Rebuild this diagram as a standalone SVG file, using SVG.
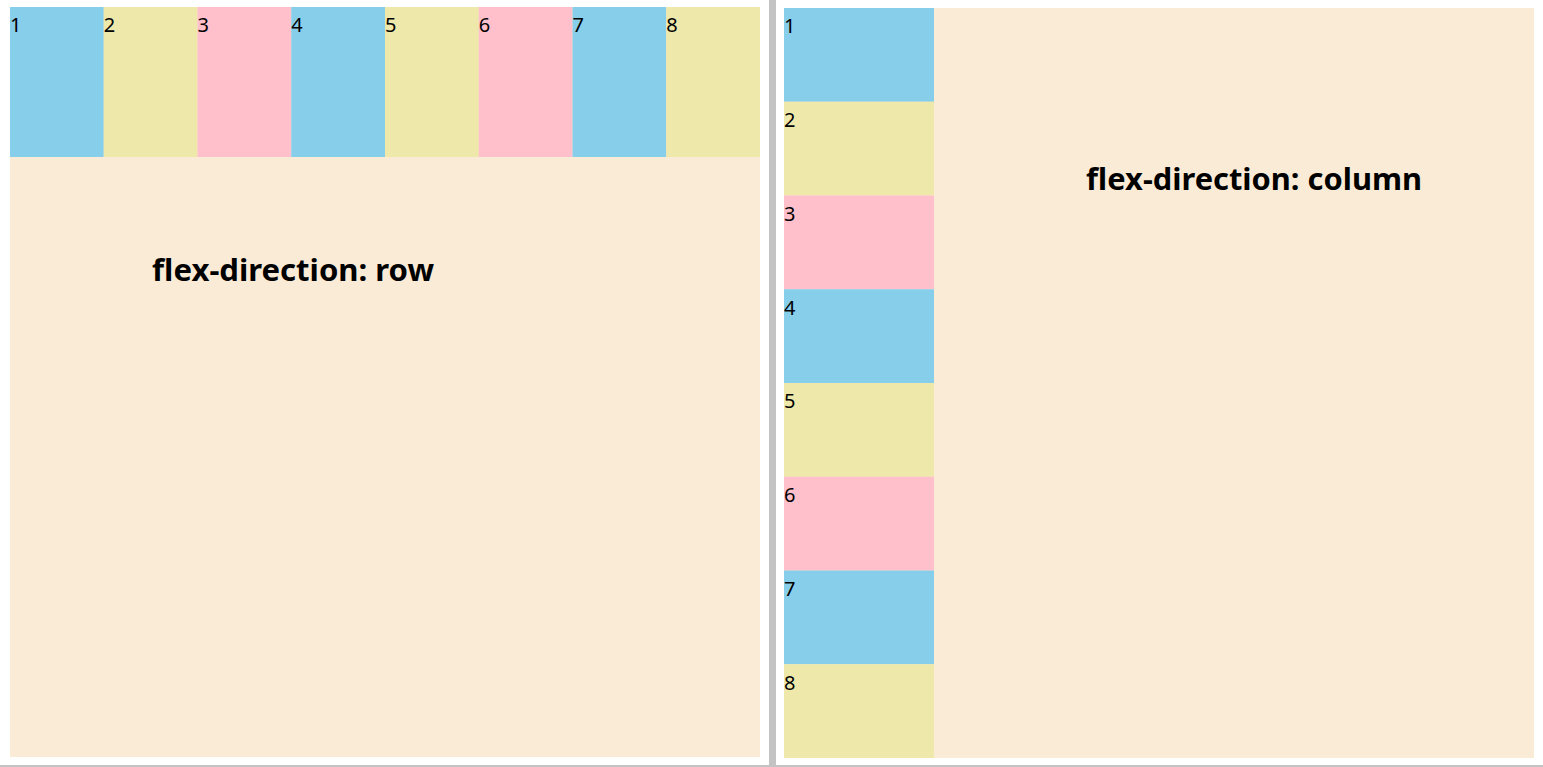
<svg xmlns="http://www.w3.org/2000/svg" width="1543" height="767" viewBox="0 0 1543 767">
<style>
.bg{fill:#FAEBD7}
.b{fill:#87CEEB}
.y{fill:#EEE8AA}
.p{fill:#FFC0CB}
.n{font-family:"Noto Sans","Liberation Sans",sans-serif;font-size:20px;fill:#000}
.t{font-family:"Noto Sans","Liberation Sans",sans-serif;font-size:30px;font-weight:bold;fill:#000}
</style>
<rect width="1543" height="767" fill="#fff"/>
<rect x="769" y="0" width="7" height="767" fill="#c3c3c3"/>
<rect x="0" y="765" width="1543" height="2" fill="#c3c3c3"/>
<g id="row-container">
<rect class="bg" x="10" y="7" width="750" height="750"/>
<text class="t" x="152" y="281" textLength="282" lengthAdjust="spacingAndGlyphs">flex-direction: row</text>
</g>
<g id="row-items">
<g id="r1"><rect class="b" x="10" y="7" width="93.75" height="150"/><text class="n" x="10" y="32">1</text></g>
<g id="r2"><rect class="y" x="103.75" y="7" width="93.75" height="150"/><text class="n" x="103.75" y="32">2</text></g>
<g id="r3"><rect class="p" x="197.5" y="7" width="93.75" height="150"/><text class="n" x="197.5" y="32">3</text></g>
<g id="r4"><rect class="b" x="291.25" y="7" width="93.75" height="150"/><text class="n" x="291.25" y="32">4</text></g>
<g id="r5"><rect class="y" x="385" y="7" width="93.75" height="150"/><text class="n" x="385" y="32">5</text></g>
<g id="r6"><rect class="p" x="478.75" y="7" width="93.75" height="150"/><text class="n" x="478.75" y="32">6</text></g>
<g id="r7"><rect class="b" x="572.5" y="7" width="93.75" height="150"/><text class="n" x="572.5" y="32">7</text></g>
<g id="r8"><rect class="y" x="666.25" y="7" width="93.75" height="150"/><text class="n" x="666.25" y="32">8</text></g>
</g>
<g id="column-container">
<rect class="bg" x="784" y="8" width="750" height="750"/>
<text class="t" x="1086" y="190" textLength="336" lengthAdjust="spacingAndGlyphs">flex-direction: column</text>
</g>
<g id="column-items">
<g id="c1"><rect class="b" x="784" y="8" width="150" height="93.75"/><text class="n" x="784" y="33">1</text></g>
<g id="c2"><rect class="y" x="784" y="101.75" width="150" height="93.75"/><text class="n" x="784" y="127">2</text></g>
<g id="c3"><rect class="p" x="784" y="195.5" width="150" height="93.75"/><text class="n" x="784" y="221">3</text></g>
<g id="c4"><rect class="b" x="784" y="289.25" width="150" height="93.75"/><text class="n" x="784" y="314.5">4</text></g>
<g id="c5"><rect class="y" x="784" y="383" width="150" height="93.75"/><text class="n" x="784" y="408">5</text></g>
<g id="c6"><rect class="p" x="784" y="476.75" width="150" height="93.75"/><text class="n" x="784" y="502">6</text></g>
<g id="c7"><rect class="b" x="784" y="570.5" width="150" height="93.75"/><text class="n" x="784" y="596">7</text></g>
<g id="c8"><rect class="y" x="784" y="664.25" width="150" height="93.75"/><text class="n" x="784" y="689.5">8</text></g>
</g>
</svg>
